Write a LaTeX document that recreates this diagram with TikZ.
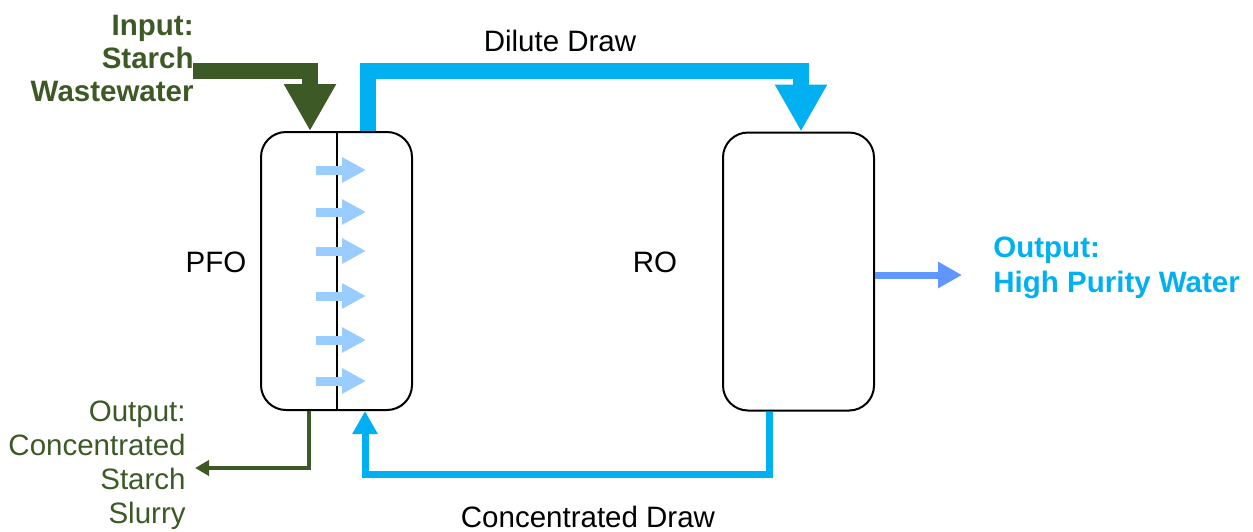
\documentclass[tikz,border=0pt]{standalone}
\usepackage{fontspec}
\setmainfont{Liberation Sans}
\usetikzlibrary{arrows.meta,calc}
\definecolor{dgreen}{RGB}{61,90,38}
\definecolor{cblue}{RGB}{0,176,240}
\definecolor{lblue}{RGB}{153,204,255}
\definecolor{pblue}{RGB}{96,150,255}
\begin{document}
\begin{tikzpicture}[x=0.5pt,y=-0.5pt,
  every node/.style={font=\fontsize{14.75}{17}\selectfont, inner sep=0pt},
  unit/.style={draw=black, line width=1pt, rounded corners=12.5pt, minimum width=75.5pt, minimum height=139pt},
  bigflow/.style={line width=8pt, line join=miter, -{Triangle[width=24.5pt,length=23.5pt]}},
  thinblue/.style={cblue, line width=3.5pt, line join=miter, -{Triangle[width=12pt,length=11.5pt]}},
  perm/.style={lblue, line width=4.5pt, -{Triangle[width=12pt,length=12pt]}}
]
\useasboundingbox (0,0) rectangle (1253,531);
% units
\node[unit] (pfo) at (336.5,271) {};
\node[unit] (ro) at (798.5,271.5) {};
\draw[line width=1pt] (pfo.north) -- (pfo.south);
% labels
\node (pfol) at (216,262) {PFO};
\node (rol) at (655,262) {RO};
\node[anchor=east, align=right, text=dgreen, font=\fontsize{14.75}{16.5}\selectfont\bfseries] (in) at (194,58) {Input:\\Starch\\Wastewater};
\node[anchor=east, align=right, text=dgreen] (slurry) at (186,465) {Output:\\Concentrated\\Starch\\Slurry};
\node[anchor=west, align=left, text=cblue, font=\fontsize{14.75}{17.5}\selectfont\bfseries] (hp) at (993,268) {Output:\\High Purity Water};
\node (dil) at (560,41) {Dilute Draw};
\node (con) at (588,517) {Concentrated Draw};
% permeation arrows
\foreach \y/\n in {170/1,212/2,251/3,296/4,340/5,381/6}{
  \coordinate (pa\n) at (316,\y);
  \coordinate (pb\n) at (366,\y);
  \draw[perm] (pa\n) -- (pb\n);
}
% input
\coordinate (inA) at (193,71);
\coordinate (inT) at ([xshift=-13.25pt]pfo.north);
\draw[bigflow, dgreen] (inA) -| (inT);
% dilute draw
\coordinate (ddA) at ([xshift=15.75pt]pfo.north);
\coordinate (ddT) at ([xshift=1.25pt]ro.north);
\draw[bigflow, cblue] (ddA) |- (ddT |- 0,71) -- (ddT);
% concentrated draw
\coordinate (cdA) at ([xshift=-14.75pt]ro.south);
\coordinate (cdB) at ([xshift=14.25pt]pfo.south);
\draw[thinblue] (cdA) -- (cdA |- 0,474) -| (cdB);
% slurry output
\coordinate (sA) at ([xshift=-13.75pt]pfo.south);
\coordinate (sT) at (195,468);
\draw[dgreen, line width=2pt, line join=miter, -{Triangle[width=7.5pt,length=7pt]}] (sA) |- (sT);
% high purity output
\coordinate (hpA) at (ro.east |- 0,275);
\coordinate (hpT) at (962,275);
\draw[pblue, line width=3.5pt, -{Triangle[width=12.5pt,length=12pt]}] (hpA) -- (hpT);
\end{tikzpicture}
\end{document}
